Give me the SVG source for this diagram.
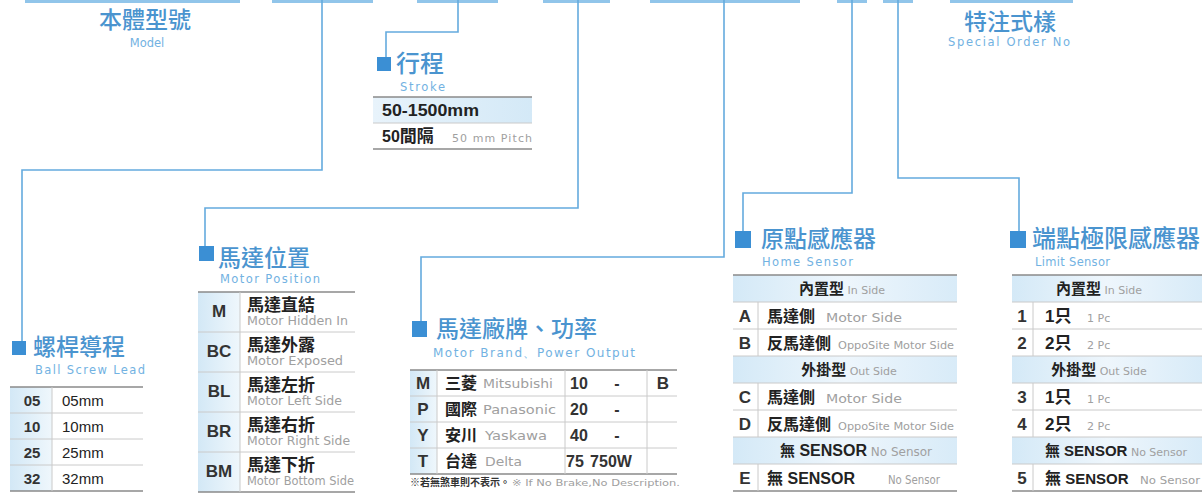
<svg xmlns="http://www.w3.org/2000/svg" width="1202" height="493" viewBox="0 0 1202 493">
<defs>
<linearGradient id="kg" x1="0" y1="0" x2="1" y2="0"><stop offset="0" stop-color="#d3e8f6"/><stop offset="1" stop-color="#eff7fc"/></linearGradient>
<linearGradient id="hg" x1="0" y1="0" x2="1" y2="0"><stop offset="0" stop-color="#d4e9f7"/><stop offset="0.5" stop-color="#eef6fc"/><stop offset="1" stop-color="#d8ebf8"/></linearGradient>
<linearGradient id="sg" x1="0" y1="0" x2="1" y2="0"><stop offset="0" stop-color="#e8f3fb"/><stop offset="1" stop-color="#d4e9f7"/></linearGradient>
<style>
.title{font-family:"Noto Sans CJK TC","Noto Sans CJK SC",sans-serif;font-size:23px;font-weight:500;fill:#4a94cf}
.sub{font-family:"DejaVu Sans",sans-serif;font-size:11.5px;fill:#72b2e2}
.mk{fill:#3b8fd4}
.bar{fill:#91c5ea}
.conn{fill:none;stroke:#64abde;stroke-width:1.6}
.tl{stroke:#8a8a8a;stroke-width:1.3}
.il{stroke:#cacaca;stroke-width:1}
.key{font-family:"Liberation Sans",sans-serif;font-weight:bold;font-size:16px;fill:#333;text-anchor:middle}
.cn{font-family:"Noto Sans CJK TC","Noto Sans CJK SC",sans-serif;font-weight:700;font-size:16px;fill:#222}
.en{font-family:"DejaVu Sans",sans-serif;font-size:11px;fill:#a0a0a0;font-weight:normal}
.val{font-family:"Liberation Sans",sans-serif;font-size:15px;fill:#222}
.bold{font-family:"Liberation Sans",sans-serif;font-weight:bold;fill:#222}
.mid{text-anchor:middle}
</style>
</defs>
<rect width="1202" height="493" fill="#ffffff"/>

<g id="code-bars">
<rect class="bar" x="25" y="0" width="215" height="3"/>
<rect class="bar" x="272" y="0" width="101" height="3"/>
<rect class="bar" x="417" y="0" width="81" height="3"/>
<rect class="bar" x="543" y="0" width="67" height="3"/>
<rect class="bar" x="650" y="0" width="150" height="3"/>
<rect class="bar" x="837" y="0" width="30" height="3"/>
<rect class="bar" x="883" y="0" width="30" height="3"/>
<rect class="bar" x="950" y="0" width="123" height="3"/>
</g>

<g id="connectors">
<path class="conn" d="M322,0 V170 H22 V341"/>
<path class="conn" d="M458,0 V32 H386 V57"/>
<path class="conn" d="M578,0 V208 H205 V246"/>
<path class="conn" d="M724,0 V257 H421 V321"/>
<path class="conn" d="M852,0 V193 H743 V231"/>
<path class="conn" d="M898,0 V178 H1019 V231"/>
</g>

<g id="node-model">
<text class="title mid" x="145" y="28">本體型號</text>
<text class="sub mid" x="147" y="47">Model</text>
</g>

<g id="node-special">
<text class="title mid" x="1010" y="30">特注式樣</text>
<text class="sub mid" x="1009" y="46" textLength="122" lengthAdjust="spacing">Special Order No</text>
</g>

<g id="node-stroke">
<rect class="mk" x="377" y="57" width="14" height="14"/>
<text class="title" x="396" y="72" style="font-size:24px">行程</text>
<text class="sub" x="400" y="91" textLength="45" lengthAdjust="spacing">Stroke</text>
<rect x="373" y="97" width="159" height="26" fill="url(#sg)"/>
<line class="tl" x1="373" y1="97" x2="532" y2="97"/>
<line class="il" x1="373" y1="123" x2="532" y2="123"/>
<line class="tl" x1="373" y1="149" x2="532" y2="149"/>
<text class="bold" x="382" y="116" style="font-size:17px" textLength="97" lengthAdjust="spacingAndGlyphs">50-1500mm</text>
<text x="382" y="142"><tspan class="bold" style="font-size:16px">50</tspan><tspan class="cn" style="font-size:17px">間隔</tspan><tspan class="en" x="452" style="font-size:11px" textLength="80" lengthAdjust="spacing">50 mm Pitch</tspan></text>
</g>

<g id="node-lead">
<rect class="mk" x="12" y="341" width="14" height="14"/>
<text class="title" x="33" y="355">螺桿導程</text>
<text class="sub" x="35" y="374" textLength="110" lengthAdjust="spacing">Ball Screw Lead</text>
<rect x="10" y="387" width="42" height="104" fill="url(#kg)"/>
<line class="tl" x1="10" y1="387" x2="143" y2="387"/>
<line class="il" x1="10" y1="413" x2="143" y2="413"/>
<line class="il" x1="10" y1="439" x2="143" y2="439"/>
<line class="il" x1="10" y1="465" x2="143" y2="465"/>
<line class="tl" x1="10" y1="491" x2="143" y2="491"/>
<line class="il" x1="52" y1="387" x2="52" y2="491"/>
<text class="key" x="32" y="406" style="font-size:15px">05</text>
<text class="key" x="32" y="432" style="font-size:15px">10</text>
<text class="key" x="32" y="458" style="font-size:15px">25</text>
<text class="key" x="32" y="484" style="font-size:15px">32</text>
<text class="val" x="62" y="406">05mm</text>
<text class="val" x="62" y="432">10mm</text>
<text class="val" x="62" y="458">25mm</text>
<text class="val" x="62" y="484">32mm</text>
</g>

<g id="node-position">
<rect class="mk" x="199" y="246" width="15" height="15"/>
<text class="title" x="218" y="266">馬達位置</text>
<text class="sub" x="220" y="283" textLength="100" lengthAdjust="spacing">Motor Position</text>
<rect x="198" y="292" width="42" height="200" fill="url(#kg)"/>
<line class="tl" x1="198" y1="292" x2="355" y2="292"/>
<line class="il" x1="198" y1="332" x2="355" y2="332"/>
<line class="il" x1="198" y1="372" x2="355" y2="372"/>
<line class="il" x1="198" y1="412" x2="355" y2="412"/>
<line class="il" x1="198" y1="452" x2="355" y2="452"/>
<line class="tl" x1="198" y1="492" x2="355" y2="492"/>
<line class="il" x1="240" y1="292" x2="240" y2="492"/>
<text class="key" x="219" y="317" style="font-size:17px">M</text>
<text class="key" x="219" y="357" style="font-size:17px">BC</text>
<text class="key" x="219" y="397" style="font-size:17px">BL</text>
<text class="key" x="219" y="437" style="font-size:17px">BR</text>
<text class="key" x="219" y="477" style="font-size:17px">BM</text>
<text class="cn" x="247" y="311" style="font-size:17px">馬達直結</text>
<text class="en" x="247" y="325" style="font-size:12px" textLength="101" lengthAdjust="spacingAndGlyphs">Motor Hidden In</text>
<text class="cn" x="247" y="351" style="font-size:17px">馬達外露</text>
<text class="en" x="247" y="365" style="font-size:12px" textLength="96" lengthAdjust="spacingAndGlyphs">Motor Exposed</text>
<text class="cn" x="247" y="391" style="font-size:17px">馬達左折</text>
<text class="en" x="247" y="405" style="font-size:12px" textLength="95" lengthAdjust="spacingAndGlyphs">Motor Left Side</text>
<text class="cn" x="247" y="431" style="font-size:17px">馬達右折</text>
<text class="en" x="247" y="445" style="font-size:12px" textLength="103" lengthAdjust="spacingAndGlyphs">Motor Right Side</text>
<text class="cn" x="247" y="471" style="font-size:17px">馬達下折</text>
<text class="en" x="247" y="485" style="font-size:12px" textLength="107" lengthAdjust="spacingAndGlyphs">Motor Bottom Side</text>
</g>

<g id="node-brand">
<rect class="mk" x="412" y="321" width="15" height="16"/>
<text class="title" x="436" y="337">馬達廠牌、功率</text>
<text class="sub" x="433" y="357" style="font-size:12px" textLength="202" lengthAdjust="spacing">Motor Brand、Power Output</text>
<rect x="410" y="370" width="27" height="104" fill="url(#kg)"/>
<line class="tl" x1="410" y1="370" x2="677" y2="370"/>
<line class="il" x1="410" y1="396" x2="677" y2="396"/>
<line class="il" x1="410" y1="422" x2="677" y2="422"/>
<line class="il" x1="410" y1="448" x2="677" y2="448"/>
<line class="tl" x1="410" y1="474" x2="677" y2="474"/>
<line class="il" x1="437" y1="370" x2="437" y2="474"/>
<line class="il" x1="565" y1="370" x2="565" y2="474"/>
<line class="il" x1="647" y1="370" x2="647" y2="474"/>
<text class="key" x="423" y="389" style="font-size:17px">M</text>
<text class="key" x="423" y="415" style="font-size:17px">P</text>
<text class="key" x="423" y="441" style="font-size:17px">Y</text>
<text class="key" x="423" y="467" style="font-size:17px">T</text>
<text class="cn" x="445" y="389">三菱</text><text class="en" x="483" y="388" style="font-size:12px" textLength="70" lengthAdjust="spacingAndGlyphs">Mitsubishi</text>
<text class="cn" x="445" y="415">國際</text><text class="en" x="483" y="414" style="font-size:12px" textLength="73" lengthAdjust="spacingAndGlyphs">Panasonic</text>
<text class="cn" x="445" y="441">安川</text><text class="en" x="485" y="440" style="font-size:12px" textLength="62" lengthAdjust="spacingAndGlyphs">Yaskawa</text>
<text class="cn" x="445" y="467">台達</text><text class="en" x="485" y="466" style="font-size:12px" textLength="37" lengthAdjust="spacingAndGlyphs">Delta</text>
<text class="key" x="579" y="389" style="font-size:16px">10</text>
<text class="key" x="579" y="415" style="font-size:16px">20</text>
<text class="key" x="579" y="441" style="font-size:16px">40</text>
<text class="key" x="575" y="467" style="font-size:16px">75</text>
<text class="key" x="617" y="389" style="font-size:16px">-</text>
<text class="key" x="617" y="415" style="font-size:16px">-</text>
<text class="key" x="617" y="441" style="font-size:16px">-</text>
<text class="key" x="611" y="467" style="font-size:16px">750W</text>
<text class="key" x="663" y="389" style="font-size:17px">B</text>
<text x="410" y="486"><tspan class="cn" style="font-size:10px;fill:#333">※若無煞車則不表示。</tspan><tspan class="en" x="512" style="font-size:9px" textLength="168" lengthAdjust="spacingAndGlyphs">※ If No Brake,No Description.</tspan></text>
</g>

<g id="node-home">
<rect class="mk" x="735" y="231" width="16" height="17"/>
<text class="title" x="761" y="247">原點感應器</text>
<text class="sub" x="762" y="266" textLength="91" lengthAdjust="spacing">Home Sensor</text>
<rect x="733" y="275" width="224" height="27" fill="url(#hg)"/>
<rect x="733" y="356" width="224" height="27" fill="url(#hg)"/>
<rect x="733" y="437" width="224" height="27" fill="url(#hg)"/>
<line class="tl" x1="733" y1="275" x2="957" y2="275"/>
<line class="il" x1="733" y1="302" x2="957" y2="302"/>
<line class="il" x1="733" y1="329" x2="957" y2="329"/>
<line class="il" x1="733" y1="356" x2="957" y2="356"/>
<line class="il" x1="733" y1="383" x2="957" y2="383"/>
<line class="il" x1="733" y1="410" x2="957" y2="410"/>
<line class="il" x1="733" y1="437" x2="957" y2="437"/>
<line class="il" x1="733" y1="464" x2="957" y2="464"/>
<line class="tl" x1="733" y1="491" x2="957" y2="491"/>
<line class="il" x1="758" y1="302" x2="758" y2="356"/>
<line class="il" x1="758" y1="383" x2="758" y2="437"/>
<line class="il" x1="758" y1="464" x2="758" y2="491"/>
<text x="842" y="294" class="mid"><tspan class="cn" style="font-size:15px">內置型</tspan><tspan class="en"> In Side</tspan></text>
<text class="key" x="745" y="322" style="font-size:17px">A</text>
<text x="767" y="322"><tspan class="cn">馬達側</tspan><tspan class="en" x="826" style="font-size:12px" textLength="76" lengthAdjust="spacingAndGlyphs">Motor Side</tspan></text>
<text class="key" x="745" y="349" style="font-size:17px">B</text>
<text x="767" y="349"><tspan class="cn">反馬達側</tspan><tspan class="en" x="838" style="font-size:10px" textLength="116" lengthAdjust="spacingAndGlyphs">OppoSite Motor Side</tspan></text>
<text x="849" y="375" class="mid"><tspan class="cn" style="font-size:15px">外掛型</tspan><tspan class="en"> Out Side</tspan></text>
<text class="key" x="745" y="403" style="font-size:17px">C</text>
<text x="767" y="403"><tspan class="cn">馬達側</tspan><tspan class="en" x="826" style="font-size:12px" textLength="76" lengthAdjust="spacingAndGlyphs">Motor Side</tspan></text>
<text class="key" x="745" y="430" style="font-size:17px">D</text>
<text x="767" y="430"><tspan class="cn">反馬達側</tspan><tspan class="en" x="838" style="font-size:10px" textLength="116" lengthAdjust="spacingAndGlyphs">OppoSite Motor Side</tspan></text>
<text x="856" y="456" class="mid"><tspan class="cn" style="font-size:15px">無</tspan><tspan class="bold" style="font-size:16px"> SENSOR</tspan><tspan class="en" style="font-size:12px"> No Sensor</tspan></text>
<text class="key" x="745" y="484" style="font-size:17px">E</text>
<text x="767" y="484"><tspan class="cn">無</tspan><tspan class="bold" style="font-size:16px"> SENSOR</tspan><tspan class="en" x="888" style="font-size:12px" textLength="52" lengthAdjust="spacingAndGlyphs">No Sensor</tspan></text>
</g>

<g id="node-limit">
<rect class="mk" x="1010" y="231" width="16" height="17"/>
<text class="title" x="1032" y="247" style="font-size:24px">端點極限感應器</text>
<text class="sub" x="1035" y="266" textLength="75" lengthAdjust="spacing">Limit Sensor</text>
<rect x="1012" y="275" width="190" height="27" fill="url(#hg)"/>
<rect x="1012" y="356" width="190" height="27" fill="url(#hg)"/>
<rect x="1012" y="437" width="190" height="27" fill="url(#hg)"/>
<line class="tl" x1="1012" y1="275" x2="1202" y2="275"/>
<line class="il" x1="1012" y1="302" x2="1202" y2="302"/>
<line class="il" x1="1012" y1="329" x2="1202" y2="329"/>
<line class="il" x1="1012" y1="356" x2="1202" y2="356"/>
<line class="il" x1="1012" y1="383" x2="1202" y2="383"/>
<line class="il" x1="1012" y1="410" x2="1202" y2="410"/>
<line class="il" x1="1012" y1="437" x2="1202" y2="437"/>
<line class="il" x1="1012" y1="464" x2="1202" y2="464"/>
<line class="tl" x1="1012" y1="491" x2="1202" y2="491"/>
<line class="il" x1="1033" y1="302" x2="1033" y2="356"/>
<line class="il" x1="1033" y1="383" x2="1033" y2="437"/>
<line class="il" x1="1033" y1="464" x2="1033" y2="491"/>
<text x="1099" y="294" class="mid"><tspan class="cn" style="font-size:15px">內置型</tspan><tspan class="en"> In Side</tspan></text>
<text class="key" x="1022" y="322" style="font-size:17px">1</text>
<text x="1045" y="322"><tspan class="bold" style="font-size:17px">1</tspan><tspan class="cn" style="font-size:17px">只</tspan><tspan class="en" x="1087">1 Pc</tspan></text>
<text class="key" x="1022" y="349" style="font-size:17px">2</text>
<text x="1045" y="349"><tspan class="bold" style="font-size:17px">2</tspan><tspan class="cn" style="font-size:17px">只</tspan><tspan class="en" x="1087">2 Pc</tspan></text>
<text x="1099" y="375" class="mid"><tspan class="cn" style="font-size:15px">外掛型</tspan><tspan class="en"> Out Side</tspan></text>
<text class="key" x="1022" y="403" style="font-size:17px">3</text>
<text x="1045" y="403"><tspan class="bold" style="font-size:17px">1</tspan><tspan class="cn" style="font-size:17px">只</tspan><tspan class="en" x="1087">1 Pc</tspan></text>
<text class="key" x="1022" y="430" style="font-size:17px">4</text>
<text x="1045" y="430"><tspan class="bold" style="font-size:17px">2</tspan><tspan class="cn" style="font-size:17px">只</tspan><tspan class="en" x="1087">2 Pc</tspan></text>
<text x="1116" y="456" class="mid"><tspan class="cn" style="font-size:15px">無</tspan><tspan class="bold" style="font-size:15px"> SENSOR</tspan><tspan class="en" style="font-size:11px"> No Sensor</tspan></text>
<text class="key" x="1022" y="484" style="font-size:17px">5</text>
<text x="1045" y="484"><tspan class="cn">無</tspan><tspan class="bold" style="font-size:15px"> SENSOR</tspan><tspan class="en" x="1140" style="font-size:11px" textLength="60" lengthAdjust="spacingAndGlyphs">No Sensor</tspan></text>
</g>
</svg>
